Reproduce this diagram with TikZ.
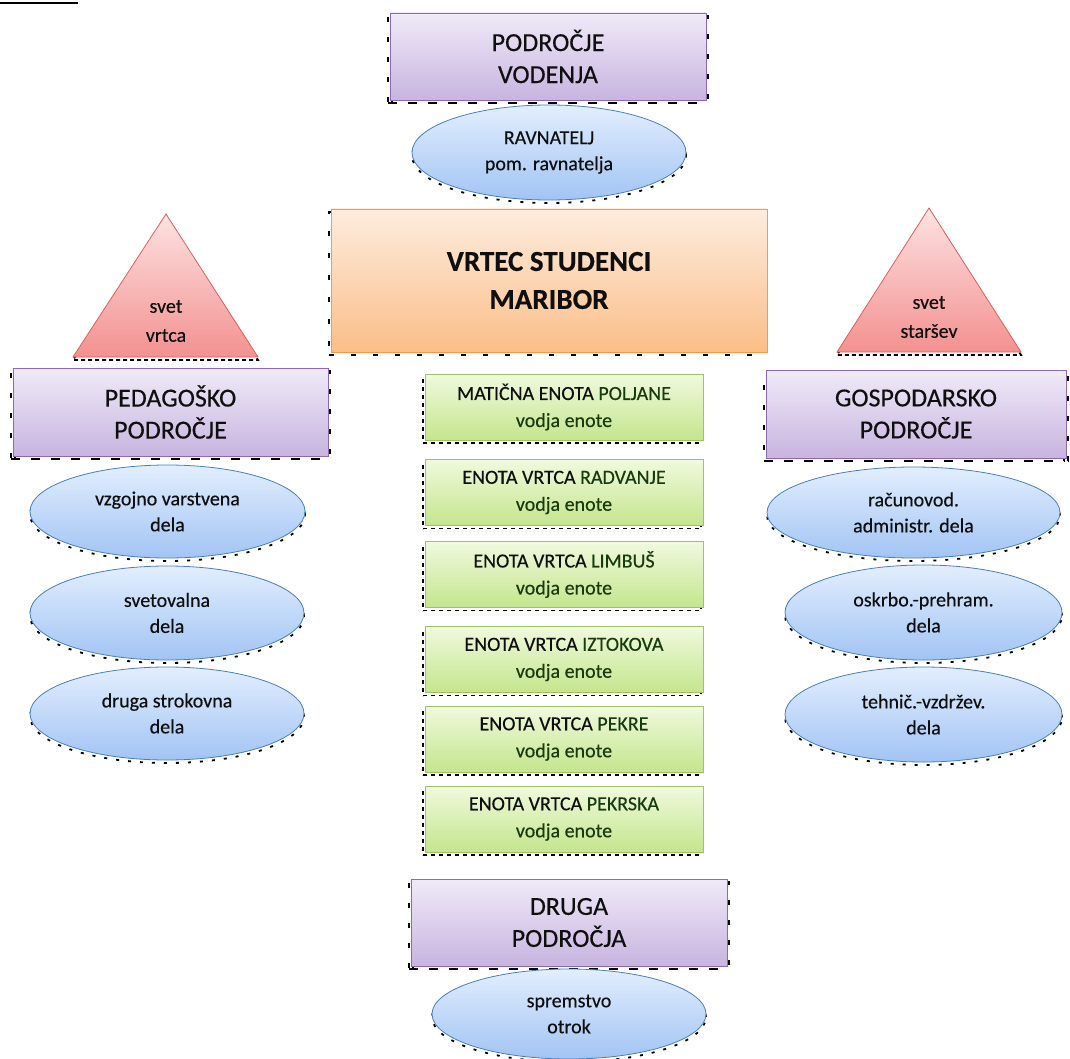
\documentclass[tikz,border=0pt]{standalone}
\usepackage{fontspec}
\setmainfont{Carlito}[FakeBold=0.35]
\usetikzlibrary{shapes.geometric}

\definecolor{txtgray}{RGB}{15,15,15}
\definecolor{txtgreen}{RGB}{25,58,15}
\definecolor{purpletop}{RGB}{240,234,248}
\definecolor{purplebot}{RGB}{200,180,224}
\definecolor{purpleline}{RGB}{138,106,178}
\definecolor{bluetop}{RGB}{226,238,254}
\definecolor{bluebot}{RGB}{162,196,244}
\definecolor{blueline}{RGB}{74,126,187}
\definecolor{orangetop}{RGB}{253,236,222}
\definecolor{orangebot}{RGB}{251,190,136}
\definecolor{orangeline}{RGB}{245,154,76}
\definecolor{redtop}{RGB}{253,226,226}
\definecolor{redbot}{RGB}{243,145,144}
\definecolor{redline}{RGB}{217,96,94}
\definecolor{greentop}{RGB}{240,249,222}
\definecolor{greenbot}{RGB}{196,230,140}
\definecolor{greenline}{RGB}{159,195,94}

\tikzset{
	smudge/.style={preaction={draw=black, line width=1.8pt, dash pattern=#1,
		transform canvas={shift={(-2pt,-3pt)}}}},
	smudgeright/.style={preaction={draw=black, line width=1.8pt, dash pattern=#1,
		transform canvas={shift={(2pt,-3pt)}}}},
	smudgedown/.style={preaction={draw=black, line width=1.8pt, dash pattern=#1,
		transform canvas={shift={(0pt,-3pt)}}}},
	areabox/.style={rectangle, draw=purpleline, line width=0.8pt, top color=purpletop,
		bottom color=purplebot, inner sep=0pt, minimum height=87pt,
		font=\fontsize{26}{32}\selectfont,
		smudge={on 5pt off 15pt}, smudgeright={on 5pt off 15pt}},
	rolebubble/.style={ellipse, draw=blueline, line width=0.8pt, top color=bluetop,
		bottom color=bluebot, inner sep=0pt, minimum width=274pt, minimum height=93pt,
		font=\fontsize{20}{26}\selectfont, smudgedown={on 3pt off 9pt}},
	unitbox/.style={rectangle, draw=greenline, line width=0.8pt, top color=greentop,
		bottom color=greenbot, inner sep=0pt, minimum width=278pt, minimum height=66pt,
		font=\fontsize{20}{27}\selectfont, smudge={on 4pt off 4pt}},
	council/.style={draw=redline, line width=0.8pt, top color=redtop, bottom color=redbot,
		smudgedown={on 4pt off 3pt}},
}

\begin{document}
\begin{tikzpicture}[x=1pt, y=-1pt, every node/.style={text=txtgray, align=center}]
	\useasboundingbox (0,0) rectangle (1070,1059);

	% cut off line at the top
	\coordinate (cutl) at (0,3.5);
	\coordinate (cutr) at (78,3.5);
	\draw[line width=2pt] (cutl) -- (cutr);

	% management
	\node[areabox, minimum width=316pt] (vodenje) at (548,56.5) {PODROČJE\\VODENJA};
	\node[rolebubble, minimum height=95pt] (ravnatelj) at (549,152.5) {RAVNATELJ\\pom. ravnatelja};

	% kindergarten
	\node[rectangle, draw=orangeline, line width=0.8pt, top color=orangetop,
		bottom color=orangebot, minimum width=436pt, minimum height=143pt, inner sep=0pt,
		font=\bfseries\fontsize{29}{38}\selectfont, smudge={on 5pt off 17pt}]
		(vrtec) at (549,280.5) {VRTEC STUDENCI\\MARIBOR};

	% councils
	\draw[council] (166,214) -- (258,357) -- (73,357) -- cycle;
	\node[font=\fontsize{20}{29}\selectfont] (svetvrtca) at (166,321) {svet\\vrtca};
	\draw[council] (929,208) -- (1021,352) -- (837,352) -- cycle;
	\node[font=\fontsize{20}{29}\selectfont] (svetstarsev) at (929,317) {svet\\staršev};

	% pedagogical
	\node[areabox, minimum width=315pt, minimum height=88pt] (pedag) at (170.5,412) {PEDAGOŠKO\\PODROČJE};
	\node[rolebubble, minimum width=275pt] (vzgojno) at (167.5,511.5) {vzgojno varstvena\\dela};
	\node[rolebubble, minimum height=94pt] (svetoval) at (167,613) {svetovalna\\dela};
	\node[rolebubble] (strokovna) at (167,713.5) {druga strokovna\\dela};

	% economic
	\node[areabox, minimum width=300pt, minimum height=88pt] (gosp) at (916,414) {GOSPODARSKO\\PODROČJE};
	\node[rolebubble, minimum width=293pt, minimum height=91pt] (racunovod) at (913.5,512.5) {računovod.\\administr. dela};
	\node[rolebubble, minimum width=277pt, minimum height=95pt] (oskrba) at (923.5,612.5) {oskrbo.-prehram.\\dela};
	\node[rolebubble, minimum width=277pt, minimum height=95pt] (vzdrzev) at (923.5,714.5) {tehnič.-vzdržev.\\dela};

	% units
	\foreach \y/\nm/\first/\last in {407/poljane/MATIČNA ENOTA/POLJANE,
			492.5/radvanje/ENOTA VRTCA/RADVANJE, 574.5/limbus/ENOTA VRTCA/LIMBUŠ,
			659.5/iztokova/ENOTA VRTCA/IZTOKOVA, 739/pekre/ENOTA VRTCA/PEKRE,
			819/pekrska/ENOTA VRTCA/PEKRSKA}
		\node[unitbox] (\nm) at (564,\y) {\first{} \textcolor{txtgreen}{\last}\\\textcolor{txtgreen}{vodja enote}};

	% other
	\node[areabox, minimum width=316pt] (druga) at (569,922.5) {DRUGA\\PODROČJA};
	\node[rolebubble, minimum height=90pt] (spremstvo) at (569,1014) {spremstvo\\otrok};
\end{tikzpicture}
\end{document}
